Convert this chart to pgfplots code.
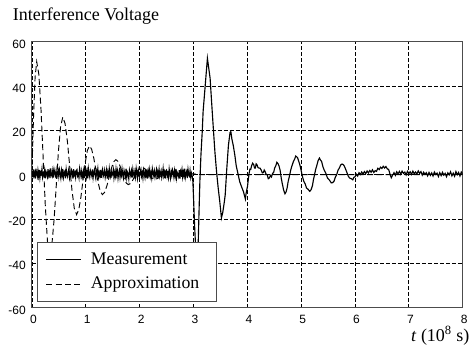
\documentclass[border=0pt]{standalone}
\usepackage{fontspec}
\setmainfont{Liberation Serif}
\newfontfamily\arialfont{Liberation Sans}
\usepackage{pgfplots}
\pgfplotsset{compat=1.18}
\begin{document}
\begin{tikzpicture}
\begin{axis}[
  scale only axis, width=323.1pt, height=199.5pt,
  xmin=0, xmax=8, ymin=-60, ymax=60,
  xtick={0,1,2,3,4,5,6,7,8}, ytick={-60,-40,-20,0,20,40,60},
  major tick length=0pt,
  grid=major,
  grid style={black, line width=0.5pt, dash pattern=on 3pt off 1.5pt},
  axis line style={black!70, line width=0.8pt},
  /pgf/number format/assume math mode=true,
  ticklabel style={font=\arialfont\fontsize{9}{10}\selectfont},
  xticklabel style={inner sep=0pt, yshift=-5.5pt, xshift=1.2pt},
  yticklabel style={inner sep=0pt, xshift=-4.4pt, yshift=-1.8pt},
  title={Interference Voltage},
  title style={at={(axis description cs:0,1)}, anchor=base west, inner sep=0pt, xshift=-14.4pt, yshift=10pt, font=\fontsize{13.5}{16}\selectfont},
  xlabel={\textit{t} (10\textsuperscript{8} s)},
  xlabel style={at={(axis description cs:1,0)}, anchor=base east, inner sep=0pt, xshift=5.3pt, yshift=-25.5pt, font=\fontsize{13.5}{16}\selectfont},
  legend style={at={(0.0125,0.021)}, anchor=south west, draw=black!70, line width=0.8pt, fill=white, font=\fontsize{13.3}{16}\selectfont, inner xsep=6pt, inner ysep=6pt, row sep=4pt, cells={anchor=west}, /tikz/every odd column/.style={column sep=5pt}},
  legend image code/.code={\draw[#1] (0pt,0pt) -- (26pt,0pt);},
]
\coordinate (bl) at (rel axis cs:0,0);
\addplot[black, line width=0.85pt] table {
t v
0 1.6
0.0125 -1.2
0.025 2.4
0.0375 -0.4
0.05 0.9
0.0625 -1.7
0.075 2.7
0.0875 0.2
0.1 -1.0
0.1125 1.9
0.125 -0.6
0.1375 2.2
0.15 -1.4
0.1625 1.1
0.175 0.3
0.1875 2.6
0.2 -1.1
0.2125 0.7
0.225 -0.2
0.2375 2.0
0.25 -1.6
0.2625 1.4
0.275 0.5
0.2875 -0.9
0.3 2.5
0.3125 -0.3
0.325 1.2
0.3375 -1.5
0.35 2.8
0.3625 0.0
0.375 -0.8
0.3875 1.7
0.4 -1.3
0.4125 2.3
0.425 0.6
0.4375 -0.5
0.45 1.8
0.4625 -1.8
0.475 1.0
0.4875 2.1
0.5 -0.7
0.5125 2.2
0.525 0.4
0.5375 -1.5
0.55 1.9
0.5625 -0.2
0.575 2.6
0.5875 -1.1
0.6 0.8
0.6125 1.5
0.625 -1.6
0.6375 2.4
0.65 0.1
0.6625 -0.9
0.675 1.3
0.6875 2.7
0.7 -1.3
0.7125 0.6
0.725 -0.4
0.7375 2.0
0.75 1.1
0.7625 -1.7
0.775 2.5
0.7875 -0.1
0.8 0.9
0.8125 -1.2
0.825 1.8
0.8375 2.3
0.85 -0.6
0.8625 0.3
0.875 -1.4
0.8875 2.8
0.9 1.0
0.9125 -0.8
0.925 1.6
0.9375 -1.0
0.95 0.5
0.9625 2.1
0.975 -1.5
0.9875 1.2
1.0 2.0
1.0125 -0.9
1.025 1.4
1.0375 -1.6
1.05 2.6
1.0625 0.3
1.075 -1.1
1.0875 1.8
1.1 0.7
1.1125 -0.5
1.125 2.4
1.1375 -1.3
1.15 1.0
1.1625 2.2
1.175 -0.2
1.1875 -1.7
1.2 1.6
1.2125 0.4
1.225 2.7
1.2375 -1.0
1.25 0.8
1.2625 -0.6
1.275 2.1
1.2875 -1.4
1.3 1.3
1.3125 2.5
1.325 -0.8
1.3375 0.1
1.35 1.9
1.3625 -1.2
1.375 0.6
1.3875 2.3
1.4 -1.8
1.4125 1.1
1.425 -0.3
1.4375 2.8
1.45 0.2
1.4625 -1.0
1.475 1.5
1.4875 -0.4
1.5 0.5
1.5125 2.3
1.525 -1.4
1.5375 1.0
1.55 -0.7
1.5625 2.6
1.575 -0.1
1.5875 1.7
1.6 -1.6
1.6125 0.8
1.625 2.1
1.6375 -1.1
1.65 1.3
1.6625 -0.3
1.675 2.5
1.6875 0.0
1.7 -1.5
1.7125 1.9
1.725 0.6
1.7375 -0.9
1.75 2.7
1.7625 -1.2
1.775 1.1
1.7875 0.3
1.8 -1.8
1.8125 2.2
1.825 0.9
1.8375 -0.5
1.85 1.6
1.8625 -1.3
1.875 2.4
1.8875 0.2
1.9 -0.8
1.9125 1.4
1.925 -1.0
1.9375 2.8
1.95 0.7
1.9625 -1.6
1.975 1.8
1.9875 -0.2
2.0 -1.0
2.0125 1.5
2.025 2.5
2.0375 -0.6
2.05 0.9
2.0625 -1.5
2.075 2.0
2.0875 0.4
2.1 -1.2
2.1125 2.6
2.125 -0.3
2.1375 1.2
2.15 -1.7
2.1625 1.8
2.175 0.1
2.1875 2.3
2.2 -0.9
2.2125 0.7
2.225 -1.4
2.2375 2.7
2.25 1.0
2.2625 -0.4
2.275 1.6
2.2875 -1.1
2.3 0.5
2.3125 2.2
2.325 -1.6
2.3375 1.3
2.35 -0.1
2.3625 2.4
2.375 -0.7
2.3875 0.8
2.4 1.9
2.4125 -1.3
2.425 0.2
2.4375 2.8
2.45 -0.5
2.4625 1.1
2.475 -1.8
2.4875 1.7
2.5 2.1
2.5125 -0.8
2.525 0.6
2.5375 -1.3
2.55 2.5
2.5625 0.3
2.575 -1.6
2.5875 1.4
2.6 -0.2
2.6125 2.2
2.625 1.0
2.6375 -1.1
2.65 1.8
2.6625 -0.5
2.675 2.6
2.6875 -1.4
2.7 0.9
2.7125 0.1
2.725 -0.9
2.7375 2.0
2.75 -1.7
2.7625 1.5
2.775 0.4
2.7875 2.4
2.8 -1.0
2.8125 1.2
2.825 -0.4
2.8375 2.7
2.85 -1.2
2.8625 0.7
2.875 1.6
2.8875 -1.5
2.9 2.3
2.9125 0.0
2.925 -0.6
2.9375 1.9
2.95 -1.1
2.9625 0.8
2.975 -0.3
2.99 -3
3.005 -12
3.02 -22
3.04 -32
3.06 -40
3.075 -42
3.09 -30
3.105 -16
3.12 -3
3.14 9
3.165 20
3.18 28.5
3.205 36
3.23 43.5
3.26 52.5
3.285 48
3.31 43.5
3.34 32
3.37 20.8
3.40 10
3.43 1.3
3.46 -6
3.49 -12.2
3.52 -19.5
3.545 -17
3.57 -13
3.59 -9.2
3.62 2.8
3.65 13.2
3.68 19
3.695 19.5
3.715 16
3.74 13.2
3.77 8.7
3.795 4
3.82 1.3
3.86 -3.2
3.895 -5.5
3.93 -7.7
3.965 -11
3.978 -8.5
3.99 -7
4.005 -5.2
4.02 -2
4.035 0.8
4.05 2.5
4.065 2.4
4.08 4
4.10 5.2
4.12 4.5
4.135 3.0
4.15 3
4.165 4.9
4.18 4.5
4.20 3.2
4.22 3
4.24 2.9
4.26 2
4.28 0.8
4.30 1
4.315 2.1
4.33 1.5
4.35 0.2
4.37 0
4.39 -1.8
4.41 -1.5
4.43 -0.4
4.45 -1
4.47 0.6
4.49 1
4.51 3.1
4.53 4
4.55 5.6
4.57 5
4.59 3.9
4.61 2
4.63 -1.4
4.65 -4
4.675 -6.9
4.70 -8.6
4.72 -7.8
4.74 -6
4.76 -3.0
4.78 -1
4.805 1.9
4.83 4
4.855 5.8
4.88 7
4.90 8.4
4.92 8
4.935 7.6
4.95 6.5
4.975 4.6
5.0 2
5.025 -0.9
5.05 -3
5.075 -4.1
5.1 -6
5.13 -6.6
5.16 -7.5
5.185 -6.8
5.21 -5
5.23 -2.1
5.25 0
5.27 2.4
5.29 4
5.315 6.3
5.34 7.5
5.36 6.6
5.38 6
5.405 3.6
5.43 2
5.46 0.6
5.49 -1.5
5.525 -2.4
5.56 -3.7
5.585 -3.6
5.61 -3
5.635 -1.2
5.66 0
5.685 2.0
5.71 3
5.735 4.4
5.76 4.8
5.78 4.6
5.80 4
5.825 2.6
5.85 1
5.875 -0.6
5.90 -1.5
5.93 -1.8
5.96 -2.3
5.98 -1.2
6.0 -1
6.025 0.2
6.05 -0.6
6.075 0.9
6.1 0.1
6.125 1.2
6.15 0.3
6.175 1.4
6.2 0.5
6.225 1.7
6.25 0.8
6.275 1.9
6.3 1.1
6.325 2.2
6.35 1.0
6.375 1.8
6.4 1.5
6.425 2.9
6.45 2.3
6.475 3.4
6.5 2.8
6.525 3.8
6.55 3.0
6.575 3.7
6.6 2.6
6.625 2.4
6.65 0.3
6.675 -1.4
6.7 -0.2
6.725 0.9
6.75 -0.3
6.775 1.3
6.8 0.4
6.825 1.5
6.85 0.2
6.875 1.6
6.9 0.6
6.925 1.2
6.95 -0.1
6.975 1.5
7.0 0.5
7.025 1.3
7.05 0.1
7.075 1.6
7.1 0.4
7.125 1.2
7.15 0.3
7.175 1.7
7.2 0.6
7.225 1.4
7.25 -0.2
7.275 1.1
7.3 0.2
7.325 0.9
7.35 -0.5
7.375 1.0
7.4 -0.3
7.425 0.8
7.45 -0.6
7.475 1.2
7.5 0.1
7.525 0.7
7.55 -0.8
7.575 0.9
7.6 -0.4
7.625 1.1
7.65 -0.2
7.675 0.6
7.7 -0.9
7.725 0.8
7.75 -0.1
7.775 1.3
7.8 -0.5
7.825 0.7
7.85 -0.7
7.875 1.4
7.9 0.0
7.925 1.0
7.95 -0.6
7.975 1.2
8.0 0.3
};
\addlegendentry{Measurement}
\addplot[black, line width=0.7pt, dash pattern=on 4.5pt off 2.5pt] coordinates {
(0,0) (0.03,25.5) (0.06,44) (0.09,51) (0.13,45.2) (0.17,29.25) (0.21,7.5) (0.25,-14.25) (0.29,-30.2) (0.33,-36)
(0.371,-31.8) (0.412,-20.5) (0.453,-5) (0.493,10.5) (0.534,21.8) (0.575,26)
(0.617,23.05) (0.66,15) (0.702,4) (0.745,-7) (0.787,-15.05) (0.83,-18)
(0.87,-15.9) (0.91,-10.25) (0.95,-2.5) (0.99,5.25) (1.03,10.9) (1.07,13)
(1.11,11.5) (1.15,7.5) (1.19,2) (1.23,-3.5) (1.27,-7.5) (1.31,-9)
(1.352,-7.9) (1.393,-5.05) (1.435,-1.1) (1.477,2.85) (1.518,5.74) (1.56,6.8)
(1.598,6.0) (1.637,3.98) (1.675,1.15) (1.713,-1.68) (1.752,-3.74) (1.79,-4.5)
(1.832,-3.96) (1.873,-2.5) (1.915,-0.5) (1.957,1.5) (1.998,2.96) (2.04,3.5)
(2.10,2.66) (2.16,0.65) (2.22,-1.36) (2.28,-2.2) (2.34,-1.67) (2.40,-0.4) (2.46,0.87) (2.52,1.4)
(2.58,1.08) (2.64,0.3) (2.70,-0.48) (2.76,-0.8) (2.82,-0.62) (2.88,-0.2) (2.94,0.22) (3.0,0.4)
(3.1,0) (8,0)
};
\addlegendentry{Approximation\hspace*{5pt}}
\end{axis}
\pgfresetboundingbox
\path[use as bounding box] ([shift={(-23.9pt,-27.98pt)}]bl) rectangle ++(354pt,258.75pt);
\end{tikzpicture}
\end{document}
